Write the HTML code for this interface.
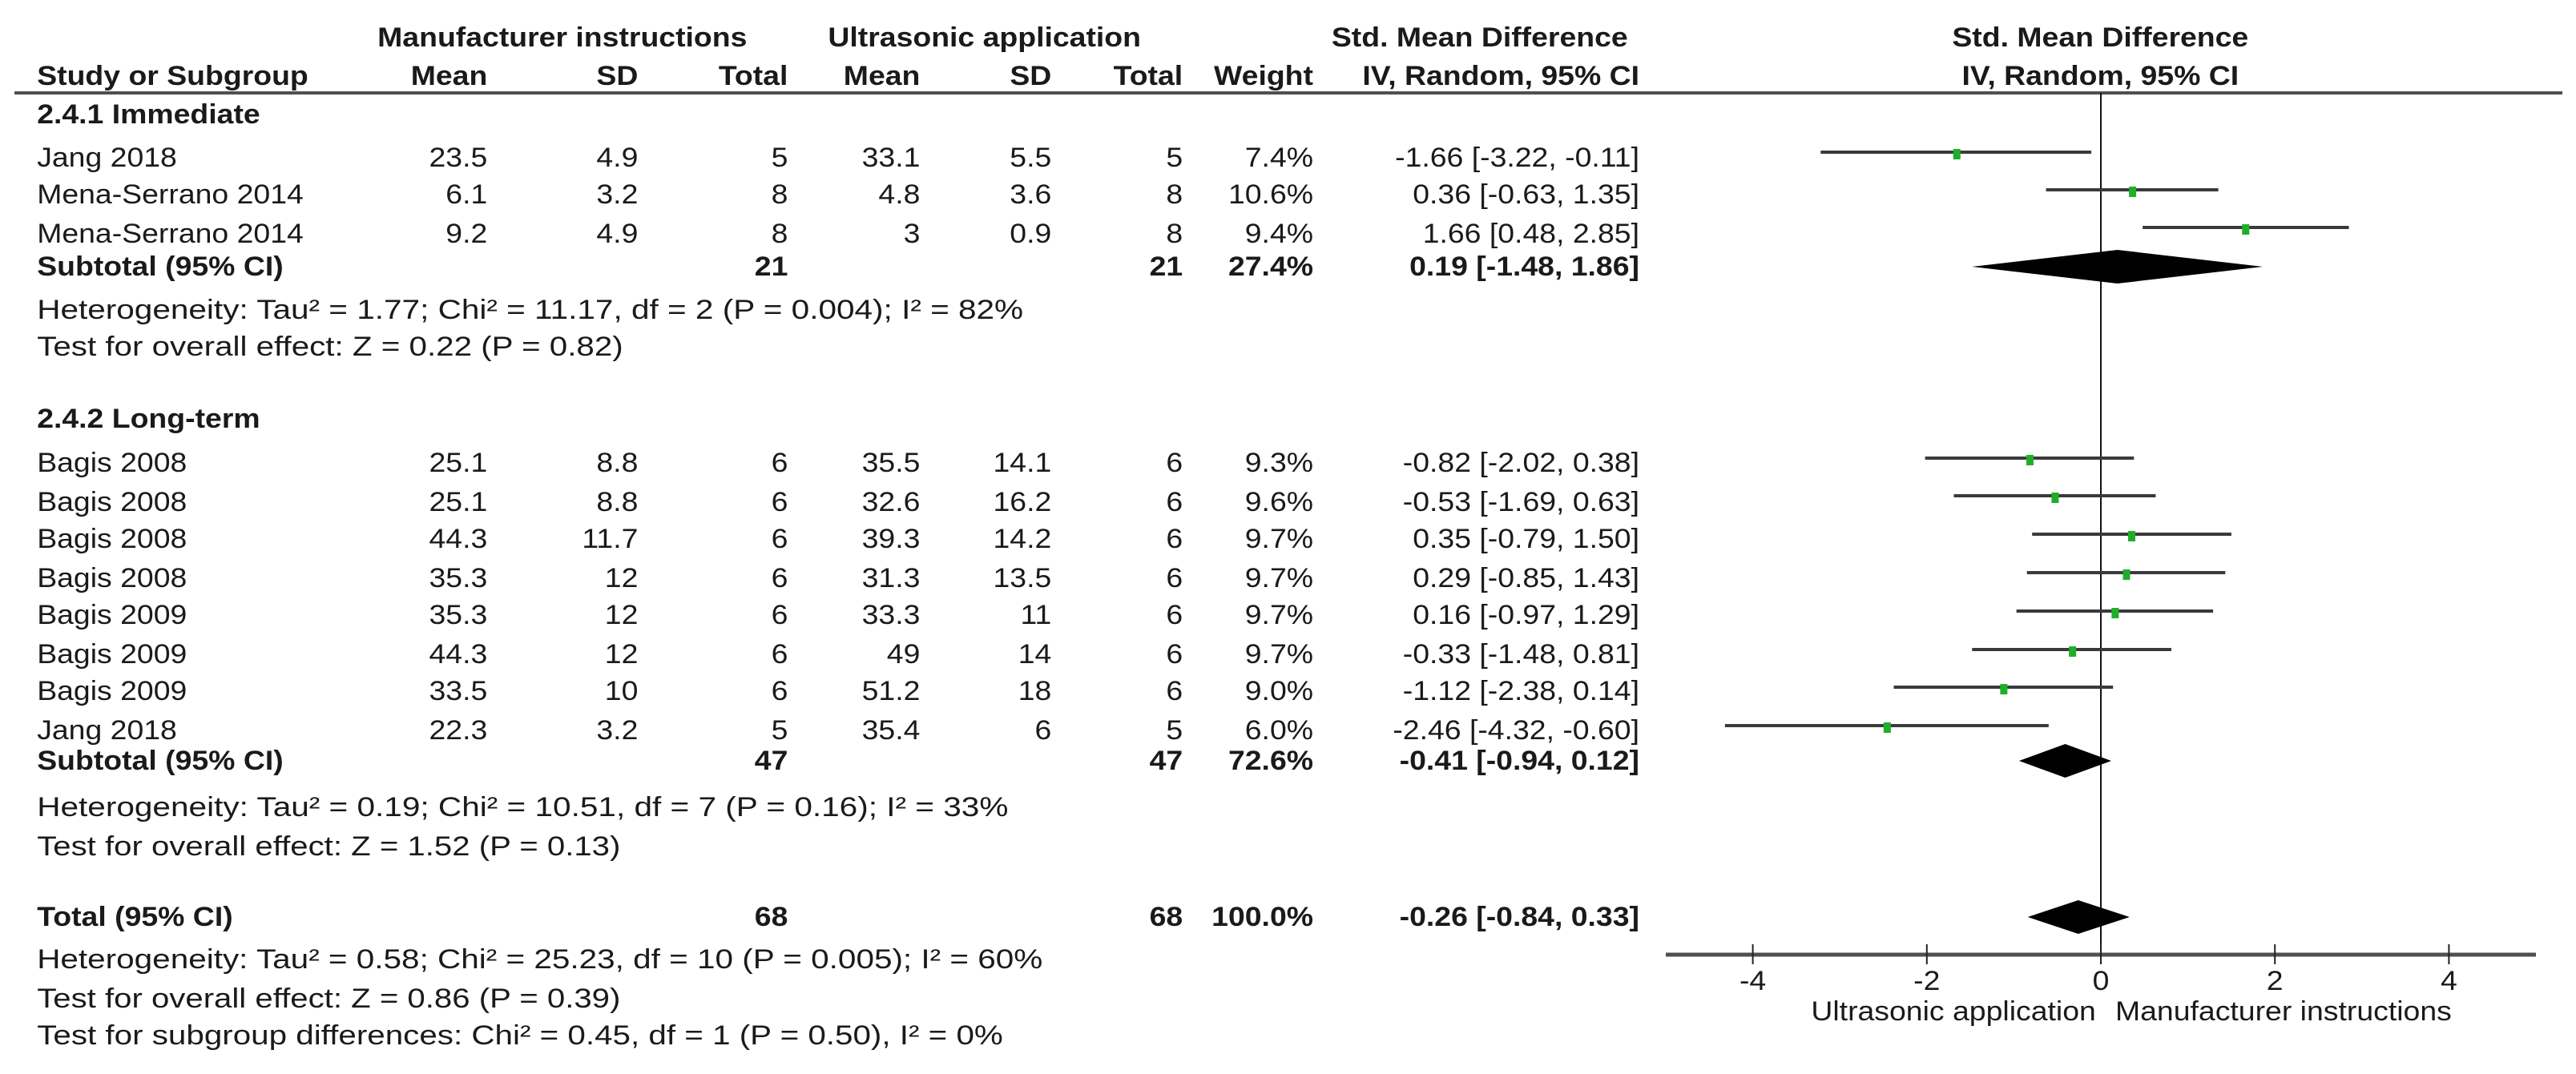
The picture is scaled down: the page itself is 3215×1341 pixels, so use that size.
<!DOCTYPE html>
<html><head><meta charset="utf-8"><style>
html,body{margin:0;padding:0;background:#fff;}
svg{display:block;}
text{font-family:"Liberation Sans",sans-serif;font-size:34px;fill:#1a1a1a;}
.b{font-weight:bold;}
.e{text-anchor:end;}
.m{text-anchor:middle;}
</style></head><body>
<svg id="fig" width="3215" height="1341" viewBox="0 0 3215 1341" xmlns="http://www.w3.org/2000/svg">
<rect width="3215" height="1341" fill="#fff"/>
<line x1="18" y1="116" x2="3198" y2="116" stroke="#505050" stroke-width="4"/>
<g transform="scale(1.1 1)">
 <text class="b m" x="638" y="58">Manufacturer instructions</text>
 <text class="b m" x="1117" y="58">Ultrasonic application</text>
 <text class="b e" x="1847" y="58">Std. Mean Difference</text>
 <text class="b m" x="2383" y="58">Std. Mean Difference</text>
 <text class="b" x="42" y="106">Study or Subgroup</text>
 <text class="b e" x="553" y="106">Mean</text>
 <text class="b e" x="724" y="106">SD</text>
 <text class="b e" x="894" y="106">Total</text>
 <text class="b e" x="1044" y="106">Mean</text>
 <text class="b e" x="1193" y="106">SD</text>
 <text class="b e" x="1342" y="106">Total</text>
 <text class="b e" x="1490" y="106">Weight</text>
 <text class="b e" x="1860" y="106">IV, Random, 95% CI</text>
 <text class="b m" x="2383" y="106">IV, Random, 95% CI</text>

 <text class="b" x="42" y="154">2.4.1 Immediate</text>
 <g>
 <text x="42" y="208">Jang 2018</text><text class="e" x="553" y="208">23.5</text><text class="e" x="724" y="208">4.9</text><text class="e" x="894" y="208">5</text><text class="e" x="1044" y="208">33.1</text><text class="e" x="1193" y="208">5.5</text><text class="e" x="1342" y="208">5</text><text class="e" x="1490" y="208">7.4%</text><text class="e" x="1860" y="208">-1.66 [-3.22, -0.11]</text></g>
 <g>
 <text x="42" y="254">Mena-Serrano 2014</text><text class="e" x="553" y="254">6.1</text><text class="e" x="724" y="254">3.2</text><text class="e" x="894" y="254">8</text><text class="e" x="1044" y="254">4.8</text><text class="e" x="1193" y="254">3.6</text><text class="e" x="1342" y="254">8</text><text class="e" x="1490" y="254">10.6%</text><text class="e" x="1860" y="254">0.36 [-0.63, 1.35]</text></g>
 <g>
 <text x="42" y="303">Mena-Serrano 2014</text><text class="e" x="553" y="303">9.2</text><text class="e" x="724" y="303">4.9</text><text class="e" x="894" y="303">8</text><text class="e" x="1044" y="303">3</text><text class="e" x="1193" y="303">0.9</text><text class="e" x="1342" y="303">8</text><text class="e" x="1490" y="303">9.4%</text><text class="e" x="1860" y="303">1.66 [0.48, 2.85]</text></g>
 <g>
 <text class="b" x="42" y="344">Subtotal (95% CI)</text><text class="b e" x="894" y="344">21</text><text class="b e" x="1342" y="344">21</text><text class="b e" x="1490" y="344">27.4%</text><text class="b e" x="1860" y="344">0.19 [-1.48, 1.86]</text></g>
 <text x="42" y="398" textLength="1119" lengthAdjust="spacingAndGlyphs">Heterogeneity: Tau² = 1.77; Chi² = 11.17, df = 2 (P = 0.004); I² = 82%</text>
 <text x="42" y="444" textLength="665" lengthAdjust="spacingAndGlyphs">Test for overall effect: Z = 0.22 (P = 0.82)</text>

 <text class="b" x="42" y="534">2.4.2 Long-term</text>
 <g><text x="42" y="589">Bagis 2008</text><text class="e" x="553" y="589">25.1</text><text class="e" x="724" y="589">8.8</text><text class="e" x="894" y="589">6</text><text class="e" x="1044" y="589">35.5</text><text class="e" x="1193" y="589">14.1</text><text class="e" x="1342" y="589">6</text><text class="e" x="1490" y="589">9.3%</text><text class="e" x="1860" y="589">-0.82 [-2.02, 0.38]</text></g>
 <g><text x="42" y="638">Bagis 2008</text><text class="e" x="553" y="638">25.1</text><text class="e" x="724" y="638">8.8</text><text class="e" x="894" y="638">6</text><text class="e" x="1044" y="638">32.6</text><text class="e" x="1193" y="638">16.2</text><text class="e" x="1342" y="638">6</text><text class="e" x="1490" y="638">9.6%</text><text class="e" x="1860" y="638">-0.53 [-1.69, 0.63]</text></g>
 <g><text x="42" y="684">Bagis 2008</text><text class="e" x="553" y="684">44.3</text><text class="e" x="724" y="684">11.7</text><text class="e" x="894" y="684">6</text><text class="e" x="1044" y="684">39.3</text><text class="e" x="1193" y="684">14.2</text><text class="e" x="1342" y="684">6</text><text class="e" x="1490" y="684">9.7%</text><text class="e" x="1860" y="684">0.35 [-0.79, 1.50]</text></g>
 <g><text x="42" y="733">Bagis 2008</text><text class="e" x="553" y="733">35.3</text><text class="e" x="724" y="733">12</text><text class="e" x="894" y="733">6</text><text class="e" x="1044" y="733">31.3</text><text class="e" x="1193" y="733">13.5</text><text class="e" x="1342" y="733">6</text><text class="e" x="1490" y="733">9.7%</text><text class="e" x="1860" y="733">0.29 [-0.85, 1.43]</text></g>
 <g><text x="42" y="779">Bagis 2009</text><text class="e" x="553" y="779">35.3</text><text class="e" x="724" y="779">12</text><text class="e" x="894" y="779">6</text><text class="e" x="1044" y="779">33.3</text><text class="e" x="1193" y="779">11</text><text class="e" x="1342" y="779">6</text><text class="e" x="1490" y="779">9.7%</text><text class="e" x="1860" y="779">0.16 [-0.97, 1.29]</text></g>
 <g><text x="42" y="828">Bagis 2009</text><text class="e" x="553" y="828">44.3</text><text class="e" x="724" y="828">12</text><text class="e" x="894" y="828">6</text><text class="e" x="1044" y="828">49</text><text class="e" x="1193" y="828">14</text><text class="e" x="1342" y="828">6</text><text class="e" x="1490" y="828">9.7%</text><text class="e" x="1860" y="828">-0.33 [-1.48, 0.81]</text></g>
 <g><text x="42" y="874">Bagis 2009</text><text class="e" x="553" y="874">33.5</text><text class="e" x="724" y="874">10</text><text class="e" x="894" y="874">6</text><text class="e" x="1044" y="874">51.2</text><text class="e" x="1193" y="874">18</text><text class="e" x="1342" y="874">6</text><text class="e" x="1490" y="874">9.0%</text><text class="e" x="1860" y="874">-1.12 [-2.38, 0.14]</text></g>
 <g><text x="42" y="923">Jang 2018</text><text class="e" x="553" y="923">22.3</text><text class="e" x="724" y="923">3.2</text><text class="e" x="894" y="923">5</text><text class="e" x="1044" y="923">35.4</text><text class="e" x="1193" y="923">6</text><text class="e" x="1342" y="923">5</text><text class="e" x="1490" y="923">6.0%</text><text class="e" x="1860" y="923">-2.46 [-4.32, -0.60]</text></g>
 <g>
 <text class="b" x="42" y="961">Subtotal (95% CI)</text><text class="b e" x="894" y="961">47</text><text class="b e" x="1342" y="961">47</text><text class="b e" x="1490" y="961">72.6%</text><text class="b e" x="1860" y="961">-0.41 [-0.94, 0.12]</text></g>
 <text x="42" y="1019" textLength="1102" lengthAdjust="spacingAndGlyphs">Heterogeneity: Tau² = 0.19; Chi² = 10.51, df = 7 (P = 0.16); I² = 33%</text>
 <text x="42" y="1068" textLength="662" lengthAdjust="spacingAndGlyphs">Test for overall effect: Z = 1.52 (P = 0.13)</text>

 <g>
 <text class="b" x="42" y="1156">Total (95% CI)</text><text class="b e" x="894" y="1156">68</text><text class="b e" x="1342" y="1156">68</text><text class="b e" x="1490" y="1156">100.0%</text><text class="b e" x="1860" y="1156">-0.26 [-0.84, 0.33]</text></g>
 <text x="42" y="1209" textLength="1141" lengthAdjust="spacingAndGlyphs">Heterogeneity: Tau² = 0.58; Chi² = 25.23, df = 10 (P = 0.005); I² = 60%</text>
 <text x="42" y="1258" textLength="662" lengthAdjust="spacingAndGlyphs">Test for overall effect: Z = 0.86 (P = 0.39)</text>
 <text x="42" y="1304" textLength="1096" lengthAdjust="spacingAndGlyphs">Test for subgroup differences: Chi² = 0.45, df = 1 (P = 0.50), I² = 0%</text>

 <text class="e" x="2378" y="1274">Ultrasonic application</text>
 <text x="2400" y="1274">Manufacturer instructions</text>
</g>
<g id="plot"></g>
</svg>
<script>
const studyEst = [-1.66, 0.36, 1.66, -0.82, -0.53, 0.35, 0.29, 0.16, -0.33, -1.12, -2.46];
const studyLo = [-3.22, -0.63, 0.48, -2.02, -1.69, -0.79, -0.85, -0.97, -1.48, -2.38, -4.32];
const studyHi = [-0.11, 1.35, 2.85, 0.38, 0.63, 1.50, 1.43, 1.29, 0.81, 0.14, -0.60];
const studyRow = [0, 1, 2, 6, 7, 8, 9, 10, 11, 12, 13];
const poolEst = [0.19, -0.41, -0.26];
const poolLo = [-1.48, -0.94, -0.84];
const poolHi = [1.86, 0.12, 0.33];
const poolRow = ['sub1', 'sub2', 'total'];
const tickValues = [-4, -2, 0, 2, 4];
const tickLabels = ['-4', '-2', '0', '2', '4'];

const NS = 'http://www.w3.org/2000/svg';
const plot = document.getElementById('plot');
const X0 = 2622, UNIT = 108.6;
function xs(v){ return X0 + UNIT * v; }
const rowCenters = [190, 237, 284, 0, 0, 0, 572, 619, 667, 715, 763, 811, 858, 906];
const poolCenters = {sub1: 333, sub2: 950, total: 1145};
const AXY = 1192;
function mk(tag, attrs){ const e = document.createElementNS(NS, tag); for (const k in attrs) e.setAttribute(k, attrs[k]); plot.appendChild(e); return e; }

let z = mk('line', {x1: xs(0), x2: xs(0), y1: 116, y2: AXY, stroke: '#111', 'stroke-width': 2});



studyEst.forEach((v, i) => {
  const y = rowCenters[studyRow[i]];
  const l = mk('line', {x1: xs(studyLo[i]), x2: xs(studyHi[i]), y1: y, y2: y, stroke: '#3a3a3a', 'stroke-width': 4});
  
  
  const r = mk('rect', {x: xs(v) - 4, y: y - 4, width: 9, height: 13, fill: '#1fae2a'});
  
  
});

poolEst.forEach((v, i) => {
  const y = poolCenters[poolRow[i]];
  const h = 21;
  const p = mk('polygon', {points: `${xs(poolLo[i])},${y} ${xs(v)},${y - h} ${xs(poolHi[i])},${y} ${xs(v)},${y + h}`, fill: '#000'});
  
  
});

let ax = mk('line', {x1: xs(-5), x2: xs(5), y1: AXY, y2: AXY, stroke: '#505050', 'stroke-width': 5});


tickValues.forEach((v, i) => {
  const t = mk('line', {x1: xs(v), x2: xs(v), y1: AXY - 13, y2: AXY + 12, stroke: '#222', 'stroke-width': 2});
  
  
  const tx = mk('text', {transform: `translate(${xs(v)},1236) scale(1.1 1)`, 'text-anchor': 'middle'});
  tx.textContent = tickLabels[i];
  
  
});
</script>
</body></html>
